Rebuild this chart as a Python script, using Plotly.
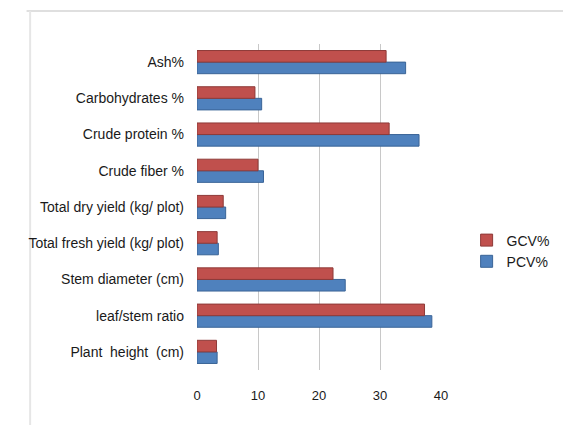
import plotly.graph_objects as go

categories = ["Plant  height  (cm)", "leaf/stem ratio", "Stem diameter (cm)",
              "Total fresh yield (kg/ plot)", "Total dry yield (kg/ plot)",
              "Crude fiber %", "Crude protein %", "Carbohydrates %", "Ash%"]
gcv = [3.2, 37.3, 22.3, 3.3, 4.3, 10.0, 31.5, 9.5, 31.0]
pcv = [3.3, 38.5, 24.3, 3.5, 4.7, 10.9, 36.4, 10.6, 34.2]
x_ticks = [0, 10, 20, 30, 40]

FONT = "Liberation Sans Narrow, Arial Narrow, Liberation Sans, Arial, sans-serif"

fig = go.Figure()
fig.add_trace(go.Bar(y=categories, x=pcv, orientation="h", name="PCV%",
                     marker=dict(color="#4F81BD", line=dict(color="#3A6497", width=1))))
fig.add_trace(go.Bar(y=categories, x=gcv, orientation="h", name="GCV%",
                     marker=dict(color="#C0504D", line=dict(color="#8E3A38", width=1))))

fig.update_layout(
    width=567, height=425,
    margin=dict(l=197, r=98, t=44, b=55),
    paper_bgcolor="white", plot_bgcolor="white",
    barmode="group", bargap=0.36, bargroupgap=0,
    font=dict(family=FONT, size=14, color="#1a1a1a"),
    showlegend=True,
    legend=dict(x=1.105, y=0.365, xanchor="left", yanchor="middle",
                traceorder="reversed", font=dict(size=14, color="#1a1a1a"),
                itemwidth=30, tracegroupgap=0, bgcolor="rgba(0,0,0,0)"),
    xaxis=dict(range=[0, 40], tickvals=x_ticks, showgrid=True, gridcolor="#C8C8C8",
               gridwidth=1, zeroline=False, showline=False, ticks="",
               tickfont=dict(size=13, color="#1a1a1a"), ticklabelstandoff=16),
    yaxis=dict(categoryorder="array", categoryarray=categories, showgrid=False,
               zeroline=False, showline=False, ticks="", ticklabelstandoff=12,
               tickfont=dict(size=14, color="#1a1a1a")),
    shapes=[
        dict(type="line", xref="paper", yref="paper", layer="below",
             x0=(7 - 197) / 272, x1=1.5,
             y0=1 + (44 - 11) / 326, y1=1 + (44 - 11) / 326,
             line=dict(color="#D4D4D4", width=1.5)),
        dict(type="line", xref="paper", yref="paper", layer="below",
             x0=(11 - 197) / 272, x1=(11 - 197) / 272,
             y0=1 + (44 - 11) / 326, y1=-0.3,
             line=dict(color="#E6E6E6", width=2)),
    ],
)

fig.write_html("out.html", config={"displayModeBar": False})
